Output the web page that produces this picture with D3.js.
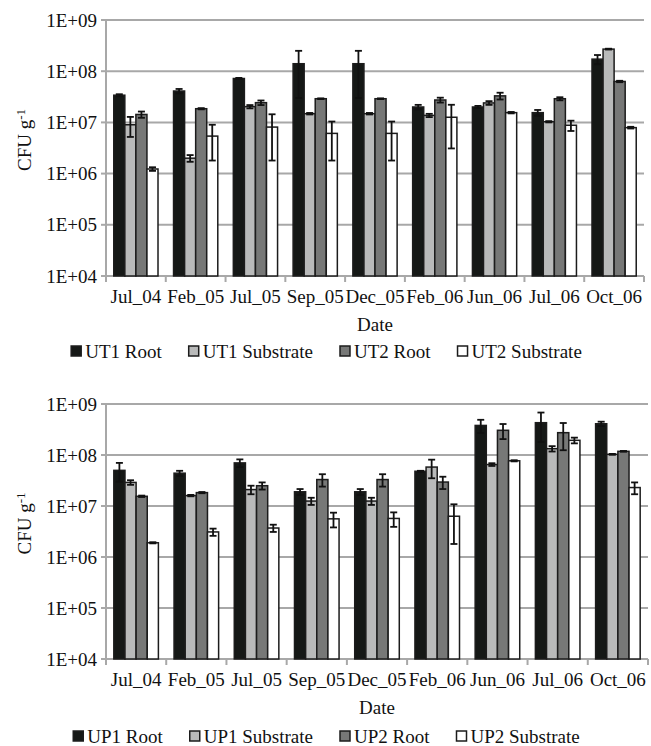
<!DOCTYPE html>
<html>
<head>
<meta charset="utf-8">
<script src="https://cdn.jsdelivr.net/npm/d3@7"></script>
<style>
  body { margin: 0; background: #fff; }
</style>
</head>
<body>
<div id="chart"></div>
<script>
// categories
var dates = ["Jul_04", "Feb_05", "Jul_05", "Sep_05", "Dec_05", "Feb_06", "Jun_06", "Jul_06", "Oct_06"];
var yTicks = [1e4, 1e5, 1e6, 1e7, 1e8, 1e9];
var yTickLabels = ["1E+04", "1E+05", "1E+06", "1E+07", "1E+08", "1E+09"];

// top panel (UT)
var utNames = ["UT1 Root", "UT1 Substrate", "UT2 Root", "UT2 Substrate"];
var ut1Root = [3.4e7, 4.1e7, 7.2e7, 1.4e8, 1.4e8, 2.0e7, 2.0e7, 1.55e7, 1.72e8];
var ut1RootErr = [1.5e6, 4e6, 2e6, 1.1e8, 1.1e8, 2e6, 1e6, 2e6, 3.5e7];
var ut1Sub = [9e6, 2.0e6, 2.03e7, 1.48e7, 1.48e7, 1.37e7, 2.4e7, 1.03e7, 2.7e8];
var ut1SubErr = [3.8e6, 3e5, 1.5e6, 5e5, 5e5, 1e6, 2e6, 3e5, 5e6];
var ut2Root = [1.43e7, 1.85e7, 2.43e7, 2.9e7, 2.9e7, 2.74e7, 3.3e7, 2.9e7, 6.3e7];
var ut2RootErr = [2e6, 5e5, 2.5e6, 5e5, 5e5, 3e6, 5e6, 2e6, 2e6];
var ut2Sub = [1.23e6, 5.4e6, 8.1e6, 6.1e6, 6.1e6, 1.26e7, 1.55e7, 8.8e6, 7.9e6];
var ut2SubErr = [1e5, 3.6e6, 6.3e6, 4.3e6, 4.3e6, 9.5e6, 5e5, 2e6, 3e5];

// bottom panel (UP)
var upNames = ["UP1 Root", "UP1 Substrate", "UP2 Root", "UP2 Substrate"];
var up1Root = [5.0e7, 4.4e7, 7.0e7, 1.9e7, 1.9e7, 4.8e7, 3.8e8, 4.3e8, 4.1e8];
var up1RootErr = [2e7, 5e6, 1.2e7, 2.5e6, 2.5e6, 1e6, 1.1e8, 2.5e8, 4e7];
var up1Sub = [2.9e7, 1.6e7, 2.1e7, 1.25e7, 1.25e7, 5.8e7, 6.5e7, 1.33e8, 1.03e8];
var up1SubErr = [3e6, 5e5, 4e6, 2e6, 2e6, 2.3e7, 4e6, 1.6e7, 2e6];
var up2Root = [1.55e7, 1.83e7, 2.5e7, 3.3e7, 3.3e7, 2.95e7, 3.05e8, 2.74e8, 1.18e8];
var up2RootErr = [5e5, 5e5, 4e6, 9e6, 9e6, 8e6, 1.0e8, 1.5e8, 2e6];
var up2Sub = [1.9e6, 3.1e6, 3.7e6, 5.6e6, 5.7e6, 6.3e6, 7.7e7, 1.94e8, 2.3e7];
var up2SubErr = [5e4, 5e5, 6e5, 1.8e6, 1.8e6, 4.5e6, 2e6, 2.5e7, 6e6];

var colors = ["#151816", "#b9baba", "#777877", "#ffffff"];

var W = 651, H = 746;
var svg = d3.select("#chart").append("svg")
    .attr("width", W)
    .attr("height", H)
    .attr("font-family", "'Liberation Serif', 'DejaVu Serif', serif")
    .attr("fill", "#111");

function drawPanel(opt) {
    var g = svg.append("g");
    var y = d3.scaleLog().domain([1e4, 1e9]).range([opt.bottom, opt.top]);
    var x0 = d3.scaleBand().domain(dates).range([opt.left, opt.right])
        .paddingInner(0.26).paddingOuter(0.13);
    var x1 = d3.scaleBand().domain(d3.range(opt.series.length)).range([0, x0.bandwidth()]);
    var step = (opt.right - opt.left) / dates.length;

    // gridlines
    g.selectAll(".grid").data(yTicks).enter().append("line")
        .attr("x1", opt.left).attr("x2", opt.right)
        .attr("y1", d => y(d)).attr("y2", d => y(d))
        .attr("stroke", "#a8a8a8").attr("stroke-width", 2);

    // y axis
    g.append("line").attr("x1", opt.left).attr("x2", opt.left)
        .attr("y1", opt.top).attr("y2", opt.bottom)
        .attr("stroke", "#a8a8a8").attr("stroke-width", 2);
    g.selectAll(".ytick").data(yTicks).enter().append("line")
        .attr("x1", opt.left - 5).attr("x2", opt.left)
        .attr("y1", d => y(d)).attr("y2", d => y(d))
        .attr("stroke", "#a8a8a8").attr("stroke-width", 2);
    g.selectAll(".ylab").data(yTicks).enter().append("text")
        .attr("x", opt.left - 9).attr("y", d => y(d)).attr("dy", "0.35em")
        .attr("text-anchor", "end").attr("font-size", 19)
        .text((d, i) => yTickLabels[i]);

    // x ticks at category boundaries
    g.selectAll(".xtick").data(d3.range(dates.length + 1)).enter().append("line")
        .attr("x1", d => opt.left + d * step).attr("x2", d => opt.left + d * step)
        .attr("y1", opt.bottom).attr("y2", opt.bottom + 6)
        .attr("stroke", "#a8a8a8").attr("stroke-width", 2);

    // bars
    opt.series.forEach(function (s, si) {
        var grp = g.append("g");
        grp.selectAll("rect").data(s.values).enter().append("rect")
            .attr("x", (d, i) => x0(dates[i]) + x1(si))
            .attr("width", x1.bandwidth())
            .attr("y", d => y(d))
            .attr("height", d => opt.bottom - y(d))
            .attr("fill", colors[si])
            .attr("stroke", "#1c1c1c").attr("stroke-width", 1.5);

        // error bars
        var eb = grp.selectAll(".err").data(s.values).enter().append("g");
        eb.each(function (d, i) {
            var cx = x0(dates[i]) + x1(si) + x1.bandwidth() / 2;
            var hi = d + s.err[i], lo = Math.max(d - s.err[i], 1e4);
            var e = d3.select(this);
            e.append("line").attr("x1", cx).attr("x2", cx)
                .attr("y1", y(hi)).attr("y2", y(lo))
                .attr("stroke", "#111").attr("stroke-width", 1.8);
            [hi, lo].forEach(function (v) {
                e.append("line").attr("x1", cx - 3.5).attr("x2", cx + 3.5)
                    .attr("y1", y(v)).attr("y2", y(v))
                    .attr("stroke", "#111").attr("stroke-width", 1.8);
            });
        });
    });

    // x labels
    g.selectAll(".xlab").data(dates).enter().append("text")
        .attr("x", d => x0(d) + x0.bandwidth() / 2)
        .attr("y", opt.bottom + 27)
        .attr("text-anchor", "middle").attr("font-size", 19)
        .text(d => d);

    // x title
    g.append("text")
        .attr("x", (opt.left + opt.right) / 2).attr("y", opt.bottom + 55)
        .attr("text-anchor", "middle").attr("font-size", 19)
        .text("Date");

    // y title
    var yt = g.append("text")
        .attr("transform", "translate(31," + ((opt.top + opt.bottom) / 2 - 8) + ") rotate(-90)")
        .attr("text-anchor", "middle").attr("font-size", 19);
    yt.append("tspan").text("CFU g");
    yt.append("tspan").attr("dy", "-0.45em").attr("font-size", 13).text("-1");

    // legend
    var leg = g.append("g");
    var lx = 0;
    opt.series.forEach(function (s, si) {
        var it = leg.append("g").attr("transform", "translate(" + lx + ",0)");
        it.append("rect").attr("x", 0).attr("y", -12).attr("width", 10).attr("height", 10)
            .attr("fill", colors[si]).attr("stroke", "#1c1c1c").attr("stroke-width", 1.5);
        var t = it.append("text").attr("x", 14).attr("y", 0)
            .attr("font-size", 19).text(s.name);
        lx += 14 + t.node().getComputedTextLength() + 27;
    });
    lx -= 27;
    leg.attr("transform", "translate(" + ((W - lx) / 2 + 1) + "," + opt.legendY + ")");
}

drawPanel({
    top: 20, bottom: 276, left: 106, right: 644, legendY: 358,
    series: [
        { name: utNames[0], values: ut1Root, err: ut1RootErr },
        { name: utNames[1], values: ut1Sub, err: ut1SubErr },
        { name: utNames[2], values: ut2Root, err: ut2RootErr },
        { name: utNames[3], values: ut2Sub, err: ut2SubErr }
    ]
});

drawPanel({
    top: 404, bottom: 659, left: 106, right: 648, legendY: 743,
    series: [
        { name: upNames[0], values: up1Root, err: up1RootErr },
        { name: upNames[1], values: up1Sub, err: up1SubErr },
        { name: upNames[2], values: up2Root, err: up2RootErr },
        { name: upNames[3], values: up2Sub, err: up2SubErr }
    ]
});
</script>
</body>
</html>
